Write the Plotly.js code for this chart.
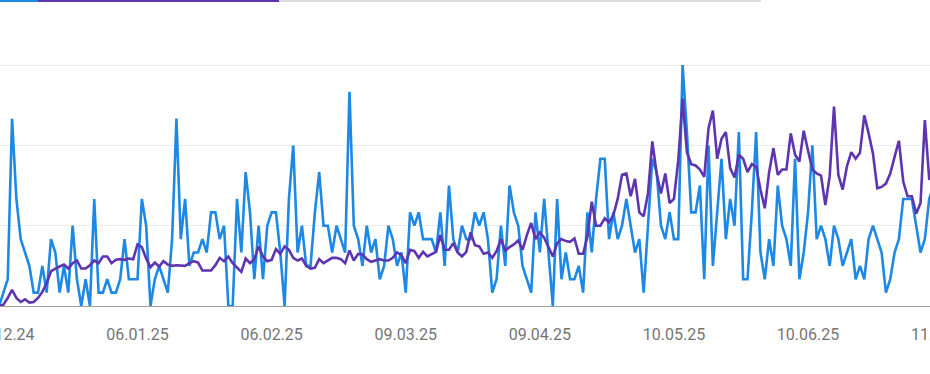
<!DOCTYPE html>
<html>
<head>
<meta charset="utf-8">
<script src="https://cdn.plot.ly/plotly-3.0.1.min.js"></script>
<style>
  html, body { margin: 0; padding: 0; background: #ffffff; overflow: hidden; width: 930px; height: 374px; }
  #chart { position: absolute; left: 0; top: 0; width: 1000px; height: 374px; }
</style>
</head>
<body>
<div id="chart"></div>
<script>
// ---- data (daily values) ----
const startDate = '2024-12-05';

const seriesBlue = [
  0, 1, 2, 14, 8, 5, 4, 3, 1, 1, 3, 1, 5, 4, 1, 3, 1, 6, 2, 0, 2,
  0, 8, 1, 1, 2, 1, 1, 2, 5, 2, 2, 2, 8, 6, 0, 2, 3, 2, 1, 5,
  14, 5, 8, 3, 4, 4, 5, 4, 7, 7, 5, 6, 0, 0, 8, 4, 10, 7, 2, 6,
  2, 6, 7, 7, 4, 0, 8, 12, 4, 6, 3, 3, 7, 10, 6, 6, 4, 6, 5, 4,
  16, 6, 5, 3, 6, 4, 5, 2, 3, 6, 5, 3, 4, 1, 7, 6, 7, 5, 5, 5,
  4, 7, 3, 9, 5, 4, 6, 5, 5, 7, 6, 7, 5, 1, 2, 6, 3, 9, 7, 6,
  3, 2, 1, 7, 4, 8, 4, 0, 8, 2, 4, 2, 2, 3, 1, 7, 4, 8, 11, 11,
  5, 7, 5, 6, 8, 6, 4, 5, 1, 6, 11, 10, 6, 5, 7, 5, 5, 18, 13, 7,
  7, 9, 2, 12, 3, 7, 11, 5, 8, 6, 13, 2, 2, 7, 13, 4, 2, 5, 3, 9,
  6, 5, 3, 11, 2, 4, 7, 12, 5, 6, 5, 3, 6, 5, 3, 4, 5, 2, 3, 2,
  5, 6, 5, 4, 1, 2, 4, 5, 8, 8, 8, 6, 4, 5, 8, 9
];

const seriesPurple = [
  0, 0.1, 0.6, 1.2, 0.6, 0.3, 0.5, 0.25, 0.3, 0.6, 1.05, 1.7, 2.6, 2.8, 2.95, 3.1, 2.8, 3.2, 3.4, 2.8, 2.8,
  3.05, 3.4, 3.2, 3.7, 3.7, 3.2, 3.45, 3.5, 3.45, 3.55, 3.5, 4.6, 4.4, 3.55, 2.9, 3.25, 2.95, 3.35, 3.1, 3.0,
  3.05, 3.0, 3.0, 3.2, 3.35, 3.25, 2.65, 2.65, 2.65, 3.05, 3.6, 3.35, 3.7, 3.2, 2.85, 2.55, 3.55, 3.2, 3.5, 4.45,
  3.7, 3.35, 3.45, 4.25, 3.9, 4.45, 4.2, 3.6, 3.4, 3.55, 3.0, 2.8, 2.85, 3.5, 3.2, 3.4, 3.6, 3.6, 3.5, 3.2,
  4.15, 3.4, 3.9, 3.85, 3.5, 3.3, 3.4, 3.5, 3.4, 3.4, 3.6, 4.0, 3.8, 3.2, 4.2, 4.1, 3.6, 4.05, 3.7, 3.9,
  4.05, 5.3, 4.2, 4.2, 4.7, 4.0, 3.7, 4.05, 5.5, 4.55, 4.45, 3.9, 4.0, 3.6, 4.1, 5.0, 4.15, 4.4, 4.6, 4.9,
  4.2, 5.3, 6.2, 5.0, 5.5, 5.1, 4.4, 3.7, 4.7, 5.0, 4.85, 4.8, 5.05, 3.9, 3.9, 5.2, 7.8, 6.0, 6.0, 6.55,
  6.25, 6.8, 8.0, 9.8, 9.9, 8.2, 9.5, 7.0, 6.7, 8.4, 12.3, 9.9, 8.4, 9.9, 7.7, 8.0, 10.9, 15.5, 11.5, 10.6,
  10.5, 10.2, 9.65, 13.3, 14.6, 11.0, 12.5, 13.0, 10.3, 9.6, 11.3, 11.0, 10.0, 10.6, 10.4, 8.7, 7.3, 10.0, 11.8, 9.8,
  10.2, 10.2, 12.9, 11.3, 10.8, 13.1, 11.6, 10.2, 9.9, 9.75, 7.55, 9.7, 14.9, 9.8, 8.7, 10.45, 11.5, 11.0, 11.45, 14.25,
  12.9, 11.4, 8.8, 8.9, 9.15, 9.9, 11.15, 12.35, 9.3, 8.2, 8.2, 6.9, 7.7, 13.9, 9.5, 9.4
];

const tickDates  = ['2024-12-06', '2025-01-06', '2025-02-06', '2025-03-09', '2025-04-09', '2025-05-10', '2025-06-10', '2025-07-11'];
const tickLabels = ['06.12.24', '06.01.25', '06.02.25', '09.03.25', '09.04.25', '10.05.25', '10.06.25', '11.07.25'];

// ---- build daily date categories ----
const DAY = 86400000;
const t0 = Date.parse(startDate + 'T00:00:00Z');
function fmt(ms) {
  return new Date(ms).toISOString().replace('T', ' ').replace('Z', '');
}
const dates = seriesBlue.map((_, i) => fmt(t0 + i * DAY).slice(0, 10));

// visible window (pixel 0 .. 1000 of the plotting div)
const tick0 = Date.parse('2024-12-06T00:00:00Z');
const xRange = [fmt(tick0 - 0.786 * DAY), fmt(tick0 + 230.37 * DAY)];

const blue = '#1e88e5';
const purple = '#5e35b1';

const traces = [
  {
    x: dates, y: seriesBlue, type: 'scatter', mode: 'lines',
    line: { color: blue, width: 2.6 }, hoverinfo: 'skip', showlegend: false
  },
  {
    x: dates, y: seriesPurple, type: 'scatter', mode: 'lines',
    line: { color: purple, width: 2.6 }, hoverinfo: 'skip', showlegend: false
  }
];

const H = 374, mt = 25, mb = 68;
const ph = H - mt - mb;
function py(pix) { return 1 + (mt - pix) / ph; }

const layout = {
  width: 1000, height: H,
  margin: { l: 0, r: 0, t: mt, b: mb, pad: 0 },
  paper_bgcolor: '#ffffff', plot_bgcolor: '#ffffff',
  showlegend: false,
  font: { family: 'Roboto, "Noto Sans", sans-serif', color: '#757575', size: 16 },
  xaxis: {
    type: 'date', range: xRange,
    tickmode: 'array', tickvals: tickDates, ticktext: tickLabels,
    showgrid: false, zeroline: false,
    showline: true, linecolor: '#9e9e9e', linewidth: 1,
    ticks: '', ticklabelstandoff: 14, ticklabeloverflow: 'allow',
    tickfont: { family: 'Roboto, "Noto Sans", sans-serif', size: 16, color: '#757575' },
    automargin: false, fixedrange: true
  },
  yaxis: {
    range: [0, 21], tickmode: 'array', tickvals: [0, 6, 12, 18],
    showticklabels: false, showgrid: true, gridcolor: '#ececec', gridwidth: 1,
    zeroline: false, showline: false, ticks: '', automargin: false, fixedrange: true
  },
  shapes: [
    { type: 'rect', xref: 'paper', yref: 'paper', x0: 0, x1: 0.038, y0: py(2), y1: py(0), fillcolor: blue, line: { width: 0 } },
    { type: 'rect', xref: 'paper', yref: 'paper', x0: 0.038, x1: 0.279, y0: py(2), y1: py(0), fillcolor: purple, line: { width: 0 } },
    { type: 'rect', xref: 'paper', yref: 'paper', x0: 0.279, x1: 0.761, y0: py(2), y1: py(0), fillcolor: '#dadce0', line: { width: 0 } }
  ]
};

Plotly.newPlot('chart', traces, layout, { staticPlot: true, displayModeBar: false });
</script>
</body>
</html>
